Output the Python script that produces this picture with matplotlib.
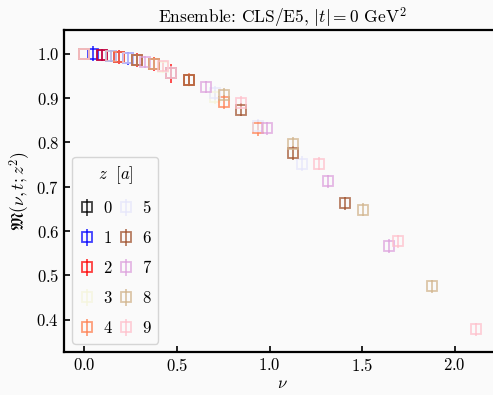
import matplotlib
matplotlib.use("Agg")
import matplotlib.pyplot as plt
import numpy as np

plt.rcParams['mathtext.fontset'] = 'cm'
plt.rcParams['font.family'] = 'serif'
plt.rcParams['font.serif'] = ['cmr10', 'DejaVu Serif']
plt.rcParams['axes.formatter.use_mathtext'] = True

# separations z (lattice units) and colours
z_values = [0, 1, 2, 3, 4, 5, 6, 7, 8, 9]
colors = ['black', 'blue', 'red', 'beige', 'coral', 'lavender',
          'sienna', 'plum', 'tan', 'pink']

# Ioffe time nu for each z (momenta n = 0..5)
nu = {
    0: [0.0, 0.0, 0.0, 0.0, 0.0, 0.0],
    1: [0.0, 0.047, 0.094, 0.141, 0.188, 0.235],
    2: [0.0, 0.094, 0.188, 0.282, 0.376, 0.470],
    3: [0.0, 0.141, 0.282, 0.423, 0.564, 0.705],
    4: [0.0, 0.188, 0.376, 0.564, 0.752, 0.940],
    5: [0.0, 0.235, 0.470, 0.705, 0.940, 1.175],
    6: [0.0, 0.282, 0.564, 0.846, 1.128, 1.410],
    7: [0.0, 0.329, 0.658, 0.987, 1.316, 1.645],
    8: [0.0, 0.376, 0.752, 1.128, 1.504, 1.880],
    9: [0.0, 0.423, 0.846, 1.269, 1.692, 2.115],
}
# reduced pseudo-ITD values
M = {
    0: [1.0, 1.0, 1.0, 1.0, 1.0, 1.0],
    1: [1.0, 1.000, 0.998, 0.996, 0.993, 0.990],
    2: [1.0, 0.998, 0.993, 0.986, 0.978, 0.956],
    3: [1.0, 0.996, 0.986, 0.971, 0.941, 0.902],
    4: [1.0, 0.993, 0.978, 0.942, 0.891, 0.832],
    5: [1.0, 0.990, 0.958, 0.912, 0.838, 0.752],
    6: [1.0, 0.986, 0.941, 0.874, 0.777, 0.663],
    7: [1.0, 0.982, 0.925, 0.832, 0.712, 0.567],
    8: [1.0, 0.978, 0.908, 0.797, 0.648, 0.475],
    9: [1.0, 0.972, 0.890, 0.752, 0.577, 0.378],
}
M_err = {
    0: [0.0, 0.0, 0.0, 0.0, 0.0, 0.0],
    1: [0.0, 0.017, 0.014, 0.014, 0.014, 0.014],
    2: [0.0, 0.014, 0.015, 0.015, 0.016, 0.022],
    3: [0.0, 0.012, 0.013, 0.014, 0.015, 0.016],
    4: [0.0, 0.013, 0.014, 0.015, 0.016, 0.018],
    5: [0.0, 0.013, 0.014, 0.015, 0.016, 0.017],
    6: [0.0, 0.013, 0.014, 0.015, 0.016, 0.015],
    7: [0.0, 0.013, 0.014, 0.015, 0.015, 0.016],
    8: [0.0, 0.013, 0.014, 0.015, 0.015, 0.014],
    9: [0.0, 0.013, 0.014, 0.015, 0.015, 0.014],
}

bg = '#fafafa'
fig = plt.figure(figsize=(4.93, 3.95), dpi=100, facecolor=bg)
ax = fig.add_axes([0.130, 0.109, 0.886, 0.815], facecolor=bg)

for z, c in zip(z_values, colors):
    ax.errorbar(nu[z], M[z], yerr=M_err[z], fmt='s', mfc='none', mec=c,
                ecolor=c, ms=7.5, mew=1.3, elinewidth=1.3, capsize=0,
                alpha=0.75, label=str(z))

ax.set_xlim(-0.11, 2.25)
ax.set_ylim(0.327, 1.054)
ax.set_xticks([0.0, 0.5, 1.0, 1.5, 2.0])
ax.set_yticks([0.4, 0.5, 0.6, 0.7, 0.8, 0.9, 1.0])
ax.tick_params(direction='in', length=4, width=1.2, labelsize=12)
for s in ax.spines.values():
    s.set_linewidth(1.6)

ax.set_xlabel(r'$\nu$', fontsize=12, labelpad=1)
ax.set_ylabel(r'$\mathfrak{M}(\nu,t;z^2)$', fontsize=12.5, labelpad=3)
ax.set_title(r'Ensemble: CLS/E5, $|t|=0$ GeV$^2$', fontsize=12.5, pad=4)

leg = ax.legend(loc='lower left', ncol=2, title=r'$z\ \ [a]$', fontsize=12,
                title_fontsize=12, handlelength=0.8, handletextpad=0.6,
                columnspacing=0.45, labelspacing=0.88, borderpad=0.45,
                frameon=True, fancybox=True, facecolor=bg,
                bbox_to_anchor=(0.0, 0.0))
leg.get_frame().set_edgecolor('#cccccc')

fig.savefig('out.png', dpi=100, facecolor=bg)
